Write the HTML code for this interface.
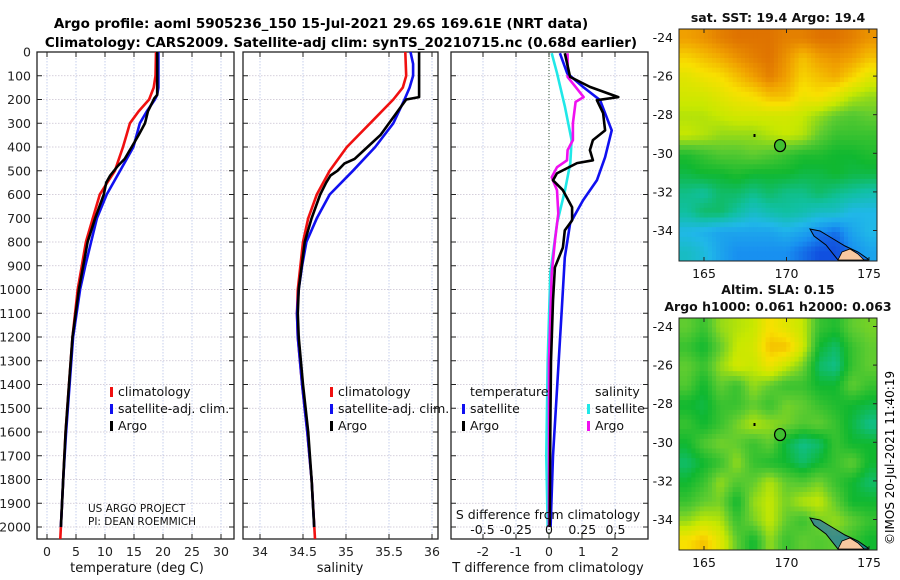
<!DOCTYPE html>
<html><head><meta charset="utf-8">
<style>
html,body{margin:0;padding:0;background:#fff;}
svg{display:block;font-family:"DejaVu Sans","Liberation Sans",sans-serif;}
</style></head>
<body>
<svg id="fig" width="900" height="580" viewBox="0 0 900 580" xmlns="http://www.w3.org/2000/svg">
<text x="321" y="28" text-anchor="middle" font-size="13.5" font-weight="bold">Argo profile: aoml 5905236_150 15-Jul-2021 29.6S 169.61E (NRT data)</text>
<text x="341" y="47" text-anchor="middle" font-size="13.5" font-weight="bold">Climatology: CARS2009. Satellite-adj clim: synTS_20210715.nc (0.68d earlier)</text>
<g id="panels"></g>
<g id="maps"></g>
<text transform="translate(894,545) rotate(-90)" font-size="12">©IMOS 20-Jul-2021 11:40:19</text>
</svg>
<script>
// ---------- data ----------
const depthTicks=[0,100,200,300,400,500,600,700,800,900,1000,1100,1200,1300,1400,1500,1600,1700,1800,1900,2000];
const tempTicks=[0,5,10,15,20,25,30];
const salTicks=[34,34.5,35,35.5,36];
const tdiffTicks=[-2,-1,0,1,2];
const sdiffTicks=[-0.5,-0.25,0,0.25,0.5];
const sdiffTickLabels=["-0.5","-0.25","0","0.25","0.5"];

const climTdepth=[0,100,150,200,250,300,350,400,450,500,550,600,700,800,900,1000,1200,1400,1600,1800,2050];
const climT=[18.8,18.7,18.4,17.6,15.8,14.3,13.7,13.1,12.4,11.7,10.4,9.1,7.9,6.7,6.0,5.3,4.4,3.8,3.2,2.8,2.3];
const satT_depth=[0,150,180,200,250,300,400,500,600,700,800,900,1000,1200,1400,1600,1800,2000];
const satT=[19.2,19.2,19.0,18.6,17.2,16.0,14.9,12.6,10.3,8.6,7.6,6.6,5.7,4.5,3.9,3.3,2.8,2.4];
const argoTdepth=[0,180,195,250,300,350,400,450,480,520,550,600,700,800,1000,1200,1400,1600,1800,2000];
const argoT=[19.0,19.0,18.5,17.4,16.9,15.8,14.6,13.4,12.2,10.9,10.2,9.8,8.3,7.0,5.5,4.4,3.8,3.2,2.8,2.4];

const climSdepth=[0,100,150,200,300,400,500,600,700,800,900,1000,1100,1200,1400,1600,1800,2050];
const climS=[35.69,35.7,35.66,35.55,35.28,35.01,34.81,34.66,34.56,34.5,34.47,34.44,34.43,34.44,34.49,34.55,34.6,34.64];
const satSdepth=[0,50,100,150,200,300,400,500,600,700,800,900,1000,1100,1200,1400,1600,1800,2000];
const satS=[35.75,35.78,35.78,35.74,35.68,35.55,35.34,35.08,34.81,34.66,34.54,34.49,34.45,34.43,34.44,34.49,34.55,34.6,34.63];
const argoSdepth=[0,190,200,250,300,350,400,450,470,500,520,550,600,700,800,1000,1100,1200,1400,1600,1800,2000];
const argoS=[35.85,35.85,35.7,35.6,35.5,35.4,35.25,35.1,34.98,34.9,34.82,34.77,34.7,34.6,34.52,34.45,34.44,34.45,34.5,34.56,34.6,34.63];

const dTdepth_argo=[5,105,147,190,203,257,330,371,413,456,468,511,540,582,654,709,751,823,907,1046,1300,1600,2000];
const dT_argo=[0.48,0.64,1.24,2.1,1.45,1.64,1.7,1.33,1.24,1.33,0.85,0.24,0.12,0.42,0.7,0.7,0.48,0.42,0.18,0.12,0.06,0.04,0.02];
const dTdepth_sat=[5,89,147,203,330,443,540,625,722,865,1076,1400,1700,2000];
const dT_sat=[0.33,0.55,1.03,1.55,1.9,1.7,1.45,1.03,0.64,0.48,0.39,0.25,0.12,0.05];
const dSdepth_sat=[5,89,232,371,468,582,722,932,1300,1700,2000];
const dS_sat=[0.02,0.06,0.12,0.17,0.16,0.12,0.06,0.01,-0.01,-0.02,-0.01];
const dSdepth_argo=[5,105,147,190,210,300,371,413,456,485,527,582,680,793,932,1300,1700,2000];
const dS_argo=[0.14,0.14,0.2,0.26,0.2,0.18,0.18,0.14,0.135,0.06,0.02,0.06,0.07,0.045,0.02,0.0,0.0,0.0];

const sstGrid=[
[.9,.92,.95,.97,.97,.97,.95,.95,.97,.97,.95,.92],
[.82,.85,.88,.92,.95,.97,.92,.85,.9,.92,.9,.85],
[.75,.78,.8,.85,.9,.95,.9,.82,.85,.88,.82,.75],
[.72,.72,.75,.78,.8,.85,.85,.78,.8,.75,.68,.65],
[.68,.68,.7,.72,.72,.72,.72,.7,.65,.6,.58,.6],
[.7,.68,.65,.65,.65,.68,.7,.68,.6,.55,.55,.55],
[.52,.55,.58,.58,.6,.58,.55,.52,.52,.5,.5,.52],
[.48,.5,.5,.52,.5,.5,.5,.48,.48,.5,.48,.48],
[.42,.4,.45,.45,.42,.45,.42,.42,.45,.42,.4,.38],
[.4,.45,.45,.4,.35,.38,.4,.38,.35,.35,.3,.3],
[.3,.28,.25,.25,.25,.25,.28,.25,.2,.15,.25,.3],
[.35,.32,.25,.2,.2,.2,.2,.15,.1,.1,.2,.25]];
const slaGrid=[
[.6,.55,.65,.68,.7,.8,.75,.7,.55,.52,.6,.62],
[.55,.5,.6,.7,.72,.85,.85,.72,.5,.45,.55,.6],
[.6,.55,.65,.72,.7,.78,.7,.62,.45,.42,.55,.6],
[.58,.5,.6,.55,.65,.6,.55,.55,.5,.5,.6,.55],
[.5,.48,.55,.55,.6,.55,.62,.6,.55,.52,.5,.48],
[.55,.5,.55,.62,.68,.65,.62,.58,.6,.55,.48,.42],
[.5,.58,.62,.6,.55,.6,.48,.42,.45,.55,.5,.5],
[.45,.5,.55,.65,.55,.52,.5,.45,.5,.55,.6,.5],
[.5,.55,.65,.58,.6,.68,.6,.58,.62,.55,.5,.45],
[.55,.6,.62,.5,.65,.7,.62,.68,.7,.6,.5,.5],
[.65,.7,.68,.55,.62,.7,.6,.55,.62,.65,.6,.55],
[.8,.85,.75,.6,.5,.65,.55,.6,.58,.6,.55,.5]];
const lonTicks=[165,170,175];
const latTicks=[-24,-26,-28,-30,-32,-34];
const argoLon=169.61, argoLat=-29.6;

// ---------- helpers ----------
const NS='http://www.w3.org/2000/svg';
function mk(tag,attrs,parent){const e=document.createElementNS(NS,tag);for(const k in attrs)e.setAttribute(k,attrs[k]);parent.appendChild(e);return e;}
const TOP=52,BOT=539;
const yD=d=>TOP+d*0.2375;
const panels=document.getElementById('panels');

function panel(name,x0,x1,xs,ticks,labels,drawYLabels){
  const g=mk('g',{},panels);
  
  
  ticks.forEach(t=>{const x=xs(t);
    const l=mk('line',{x1:x,x2:x,y1:TOP,y2:BOT,stroke:'#b8c4e8','stroke-width':0.8,'stroke-dasharray':'1.5,1.5'},g);
    });
  depthTicks.forEach(d=>{const y=yD(d);
    const l=mk('line',{x1:x0,x2:x1,y1:y,y2:y,stroke:'#c8c0d0','stroke-width':0.8,'stroke-dasharray':'1.5,1.5'},g);
    
    mk('line',{x1:x0,x2:x0+5,y1:y,y2:y,stroke:'#222'},g);
    mk('line',{x1:x1-5,x2:x1,y1:y,y2:y,stroke:'#222'},g);
    if(drawYLabels){const t=mk('text',{x:x0-6,y:y+4.5,'text-anchor':'end','font-size':12.5,fill:'#222'},g);t.textContent=d;
      }
  });
  ticks.forEach((t,i)=>{const x=xs(t);
    mk('line',{x1:x,x2:x,y1:BOT,y2:BOT-5,stroke:'#222'},g);
    mk('line',{x1:x,x2:x,y1:TOP,y2:TOP+5,stroke:'#222'},g);
    if(labels){const tx=mk('text',{x:x,y:556,'text-anchor':'middle','font-size':12.5,fill:'#222'},g);tx.textContent=labels[i];
      }
  });
  const fr=mk('rect',{x:x0,y:TOP,width:x1-x0,height:BOT-TOP,fill:'none',stroke:'#222','stroke-width':1.3},g);
  
  return g;
}
function line(g,name,xs,vals,depths,color,w){
  const p=vals.map((v,i)=>xs(v).toFixed(1)+','+yD(depths[i]).toFixed(1)).join(' ');
  const e=mk('polyline',{points:p,fill:'none',stroke:color,'stroke-width':w||2.6,'stroke-linejoin':'round'},g);
  
  
}
function txt(g,name,x,y,s,size,anchor,weight){
  const t=mk('text',{x:x,y:y,'font-size':size||12.5,'text-anchor':anchor||'start',fill:'#111','font-weight':weight||'normal'},g);
  t.textContent=s;
  
  
  return t;
}
function legendMark(g,x,y,color){
  const r=mk('rect',{x:x,y:y-9,width:3,height:10,fill:color},g);
  
  
}

// ---------- temperature panel ----------
const xT=v=>47+v*5.8;
const gT=panel('temperature-panel',37,234,xT,tempTicks,tempTicks.map(String),true);
line(gT,'temp-climatology-line',xT,climT,climTdepth,'#f01010');
line(gT,'temp-satellite-line',xT,satT,satT_depth,'#1010f0');
line(gT,'temp-argo-line',xT,argoT,argoTdepth,'#000');
[['climatology','#f01010'],['satellite-adj. clim.','#1010f0'],['Argo','#000']].forEach((e,i)=>{
  legendMark(gT,110,396+i*17,e[1]);txt(gT,'legend-entry',118,396+i*17,e[0]);});
txt(gT,'project-label',88,512,'US ARGO PROJECT',10.5);
txt(gT,'pi-label',88,525,'PI: DEAN ROEMMICH',10.5);
txt(gT,'x-axis-title',137,572,'temperature (deg C)',13,'middle');

// ---------- salinity panel ----------
const xS=v=>260+(v-34)*86;
const gS=panel('salinity-panel',243,438,xS,salTicks,salTicks.map(String),false);
line(gS,'sal-climatology-line',xS,climS,climSdepth,'#f01010');
line(gS,'sal-satellite-line',xS,satS,satSdepth,'#1010f0');
line(gS,'sal-argo-line',xS,argoS,argoSdepth,'#000');
[['climatology','#f01010'],['satellite-adj. clim.','#1010f0'],['Argo','#000']].forEach((e,i)=>{
  legendMark(gS,330,396+i*17,e[1]);txt(gS,'legend-entry',338,396+i*17,e[0]);});
txt(gS,'x-axis-title',340,572,'salinity',13,'middle');

// ---------- difference panel ----------
const xDT=v=>549+v*33;
const xDS=v=>549+v*133;
const gD=panel('difference-panel',451,648,xDT,tdiffTicks,tdiffTicks.map(String),false);
const z=mk('line',{x1:549,x2:549,y1:TOP,y2:BOT,stroke:'#335533','stroke-width':1,'stroke-dasharray':'1,2'},gD);

line(gD,'sdiff-satellite-line',xDS,dS_sat,dSdepth_sat,'#20e8e8');
line(gD,'sdiff-argo-line',xDS,dS_argo,dSdepth_argo,'#f010f0');
line(gD,'tdiff-satellite-line',xDT,dT_sat,dTdepth_sat,'#1010f0');
line(gD,'tdiff-argo-line',xDT,dT_argo,dTdepth_argo,'#000');
txt(gD,'legend-title-temperature',470,396,'temperature');
txt(gD,'legend-title-salinity',595,396,'salinity');
legendMark(gD,462,413,'#1010f0');txt(gD,'legend-entry',470,413,'satellite');
legendMark(gD,462,430,'#000');txt(gD,'legend-entry',470,430,'Argo');
legendMark(gD,587,413,'#20e8e8');txt(gD,'legend-entry',595,413,'satellite');
legendMark(gD,587,430,'#f010f0');txt(gD,'legend-entry',595,430,'Argo');
txt(gD,'s-axis-title',548,519,'S difference from climatology',12.5,'middle');
sdiffTicks.forEach((v,i)=>txt(gD,'s-tick-label',xDS(v),534,sdiffTickLabels[i],12.5,'middle'));
txt(gD,'x-axis-title',548,572,'T difference from climatology',13,'middle');

// ---------- maps ----------
const stops=[[0,[16,48,220]],[.1,[16,80,224]],[.2,[24,144,240]],[.3,[32,184,232]],[.4,[16,192,160]],[.5,[16,184,48]],[.6,[96,204,48]],[.7,[200,232,0]],[.8,[248,224,0]],[.9,[240,160,0]],[1,[216,96,0]]];
function cmap(v){for(let i=1;i<stops.length;i++){if(v<=stops[i][0]){const a=stops[i-1],b=stops[i],t=(v-a[0])/(b[0]-a[0]);
  return 'rgb('+a[1].map((c,k)=>Math.round(c+(b[1][k]-c)*t)).join(',')+')';}}return 'rgb(216,96,0)';}
function sample(grid,fy,fx){
  const R=grid.length,C=grid[0].length;
  const y=Math.min(Math.max(fy*R-0.5,0),R-1),x=Math.min(Math.max(fx*C-0.5,0),C-1);
  const y0=Math.floor(y),x0=Math.floor(x),y1=Math.min(y0+1,R-1),x1=Math.min(x0+1,C-1),ty=y-y0,tx=x-x0;
  return grid[y0][x0]*(1-ty)*(1-tx)+grid[y0][x1]*(1-ty)*tx+grid[y1][x0]*ty*(1-tx)+grid[y1][x1]*ty*tx;
}
const maps=document.getElementById('maps');
function drawMap(name,grid,top,title){
  const x0=679,x1=877,h=232,bot=top+h;
  const lonX=l=>704+(l-165)*16.5;
  const latY=l=>top+8.5+(-24-l)*19.3;
  const g=mk('g',{},maps);
  
  
  const N=48,cw=(x1-x0)/N,ch=h/N;
  for(let i=0;i<N;i++)for(let j=0;j<N;j++){
    const v=sample(grid,(i+0.5)/N,(j+0.5)/N);
    const c=mk('rect',{x:(x0+j*cw).toFixed(2),y:(top+i*ch).toFixed(2),width:(cw+0.5).toFixed(2),height:(ch+0.5).toFixed(2),fill:cmap(v)},g);
    
    
  }
  const oy=top-29;
  const out=mk('polygon',{points:`810,${229+oy} 820,${231+oy} 830,${237+oy} 845,${246+oy} 858,${252+oy} 868,${259+oy} 868,${260+oy} 838,${260+oy} 826,${245+oy} 814,${236+oy}`,fill:'rgba(20,80,220,0.5)',stroke:'#000','stroke-width':1},g);
  
  const land=mk('polygon',{points:`838,${260+oy} 842,${252+oy} 850,${249+oy} 858,${254+oy} 864,${260+oy}`,fill:'#f8c8a0',stroke:'#000','stroke-width':0.8},g);
  
  const fr=mk('rect',{x:x0,y:top,width:x1-x0,height:h,fill:'none',stroke:'#222','stroke-width':1},g);
  
  const m=mk('ellipse',{cx:lonX(argoLon),cy:latY(argoLat),rx:5.5,ry:6,fill:'#40c030',stroke:'#000','stroke-width':1.2},g);
  
  mk('rect',{x:lonX(168),y:latY(-29),width:2,height:3,fill:'#000'},g);
  latTicks.forEach(l=>{const y=latY(l);mk('line',{x1:x1,x2:x1-4,y1:y,y2:y,stroke:'#222'},g);
    txt(g,'lat-tick-label',x0-6,y+4.5,String(l),12.5,'end');});
  lonTicks.forEach(l=>{const x=lonX(l);mk('line',{x1:x,x2:x,y1:bot,y2:bot-4,stroke:'#222'},g);mk('line',{x1:x,x2:x,y1:top,y2:top+4,stroke:'#222'},g);
    txt(g,'lon-tick-label',x,bot+17,String(l),12.5,'middle');});
  title.forEach((t,i)=>txt(g,'map-title',778,top-7-(title.length-1-i)*17,t,12.5,'middle','bold'));
}
drawMap('sst-map',sstGrid,29,['sat. SST: 19.4 Argo: 19.4']);
drawMap('sla-map',slaGrid,318,['Altim. SLA: 0.15','Argo h1000: 0.061 h2000: 0.063']);
</script>
</body></html>
